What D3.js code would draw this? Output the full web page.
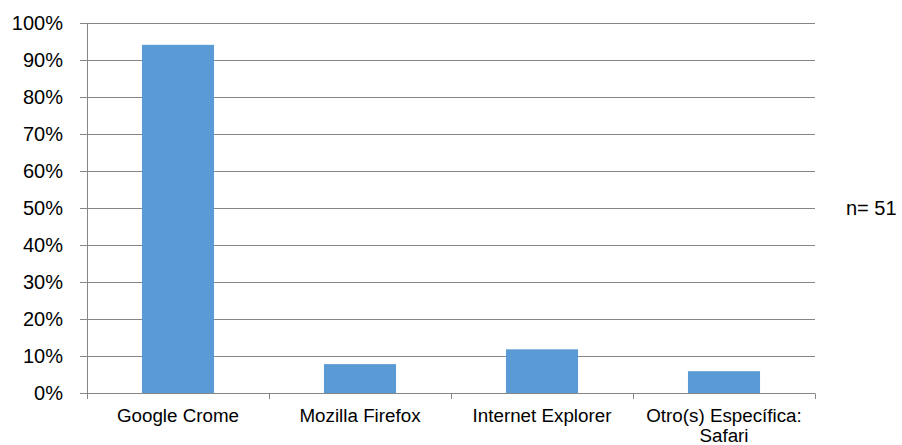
<!DOCTYPE html>
<html>
<head>
<meta charset="utf-8">
<script src="https://cdn.jsdelivr.net/npm/d3@7"></script>
<style>
  html, body { margin: 0; padding: 0; background: #fff; }
  svg { display: block; }
  text { font-family: "Liberation Sans", Arial, sans-serif; fill: #000; }
</style>
</head>
<body>
<svg id="chart" width="902" height="445"></svg>
<script>
const categories = ["Google Crome", "Mozilla Firefox", "Internet Explorer", "Otro(s) Específica: Safari"];
const categoryLines = [["Google Crome"], ["Mozilla Firefox"], ["Internet Explorer"], ["Otro(s) Específica:", "Safari"]];
const values = [0.941, 0.078, 0.118, 0.059];
const yTicks = [0, 0.1, 0.2, 0.3, 0.4, 0.5, 0.6, 0.7, 0.8, 0.9, 1.0];
const note = "n= 51";

(function () {
const svg = d3.select("#chart");
const pL = 87, pR = 815, pT = 23, pB = 393;
const gridColor = "#868686";
const barColor = "#5b9bd5";

const x = d3.scaleBand().domain(categories).range([pL, pR]).padding(0);
const y = d3.scaleLinear().domain([0, 1]).range([pB, pT]);

// gridlines (with small left tick)
svg.append("g").selectAll("line").data(yTicks).join("line")
  .attr("x1", pL - 7).attr("x2", pR)
  .attr("y1", d => Math.round(y(d)) + 0.5).attr("y2", d => Math.round(y(d)) + 0.5)
  .attr("stroke", gridColor).attr("stroke-width", 1);

// y axis line
svg.append("line")
  .attr("x1", pL + 0.5).attr("x2", pL + 0.5)
  .attr("y1", Math.round(y(1)) + 0.5).attr("y2", Math.round(y(0)) + 0.5)
  .attr("stroke", gridColor);

// category ticks
const bounds = categories.map(c => x(c)).concat([pR]);
svg.append("g").selectAll("line").data(bounds).join("line")
  .attr("x1", d => Math.round(d) + 0.5).attr("x2", d => Math.round(d) + 0.5)
  .attr("y1", Math.round(y(0)) + 0.5).attr("y2", Math.round(y(0)) + 6)
  .attr("stroke", gridColor);

// bars
const bw = x.bandwidth() * 0.396;
svg.append("g").selectAll("rect").data(categories).join("rect")
  .attr("x", d => x(d) + (x.bandwidth() - bw) / 2)
  .attr("width", bw)
  .attr("y", (d, i) => y(values[i]))
  .attr("height", (d, i) => y(0) - y(values[i]))
  .attr("fill", barColor);

// y labels
svg.append("g").selectAll("text").data(yTicks).join("text")
  .attr("x", 63).attr("y", d => y(d))
  .attr("dy", "0.35em")
  .attr("text-anchor", "end")
  .style("font-size", "20px")
  .text(d => d3.format(".0%")(d));

// category labels
const lab = svg.append("g").selectAll("text").data(categories).join("text")
  .attr("text-anchor", "middle")
  .style("font-size", "18.8px")
  .attr("x", d => x(d) + x.bandwidth() / 2)
  .attr("y", 422);
lab.each(function(d, i) {
  d3.select(this).selectAll("tspan").data(categoryLines[i]).join("tspan")
    .attr("x", x(d) + x.bandwidth() / 2)
    .attr("dy", (t, j) => j === 0 ? 0 : 19.5)
    .text(t => t);
});

// n note
svg.append("text").attr("x", 846).attr("y", y(0.5)).attr("dy", "0.35em")
  .style("font-size", "20px").text(note);
})();
</script>
</body>
</html>
